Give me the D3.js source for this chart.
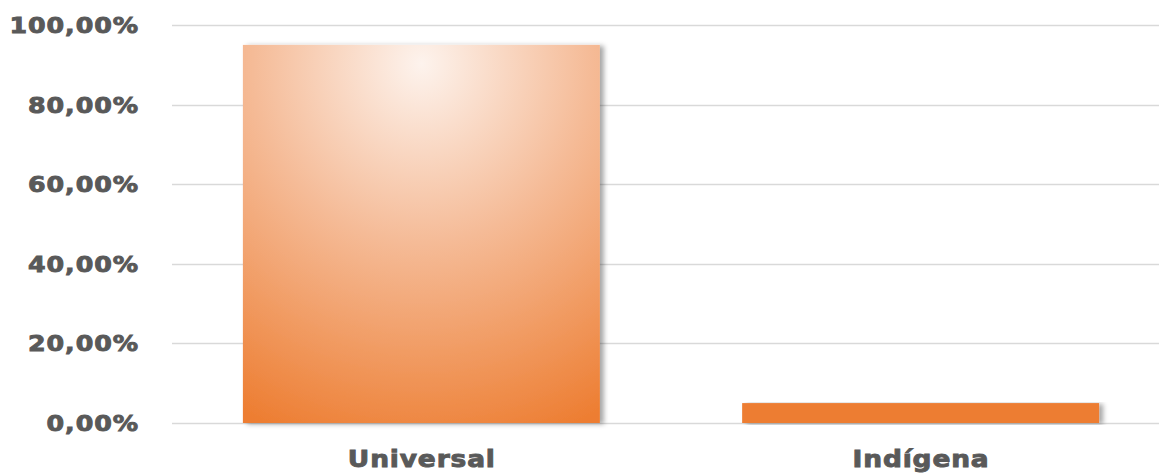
<!DOCTYPE html>
<html><head><meta charset="utf-8">
<script src="https://cdn.jsdelivr.net/npm/d3@7/dist/d3.min.js"></script>
<style>body{margin:0;background:#fff;}svg{display:block;}</style>
</head><body><svg id="c" width="1159" height="473"></svg>
<script>
const categories = ["Universal", "Indígena"];
const values = [0.95, 0.05];
const tickValues = [0, 0.2, 0.4, 0.6, 0.8, 1.0];
const tickLabels = ["0,00%", "20,00%", "40,00%", "60,00%", "80,00%", "100,00%"];

const svg = d3.select("#c");
const y = d3.scaleLinear().domain([0, 1]).range([423, 25]);
const x = d3.scaleBand().domain(categories).range([172, 1170]).paddingInner(0.285).paddingOuter(0.142);

const defs = svg.append("defs");
const g = defs.append("radialGradient").attr("id", "grad")
  .attr("gradientUnits", "objectBoundingBox")
  .attr("cx", 0.5).attr("cy", 0.05).attr("r", 1.05).attr("fx", 0.5).attr("fy", 0.05);
g.append("stop").attr("offset", "0").attr("stop-color", "#fdf3ed");
g.append("stop").attr("offset", "0.45").attr("stop-color", "#f5bb97");
g.append("stop").attr("offset", "1").attr("stop-color", "#ed7d31");
const f = defs.append("filter").attr("id", "sh").attr("x", "-5%").attr("y", "-5%").attr("width", "115%").attr("height", "115%");
f.append("feDropShadow").attr("dx", 4).attr("dy", 1).attr("stdDeviation", 2.5).attr("flood-color", "#000").attr("flood-opacity", 0.35);

// gridlines
svg.append("g").selectAll("line").data(tickValues).join("line")
  .attr("x1", 172).attr("x2", 1159)
  .attr("y1", d => Math.round(y(d)) + 0.5).attr("y2", d => Math.round(y(d)) + 0.5)
  .attr("stroke", "#d9d9d9").attr("stroke-width", 1.5);

const sx = 1.15;
// y labels
const yls = 0.8;
svg.append("g").selectAll("text").data(tickValues).join("text")
  .attr("transform", d => `translate(${138 + yls * sx},${y(d) + 8}) scale(${sx},1)`)
  .attr("text-anchor", "end")
  .attr("font-family", "DejaVu Sans").attr("font-weight", "bold").attr("font-size", 22)
  .attr("letter-spacing", yls)
  .attr("fill", "#595959").attr("stroke", "#595959").attr("stroke-width", 0.9)
  .text((d, i) => tickLabels[i]);

// bars
svg.append("g").selectAll("rect").data(values).join("rect")
  .attr("x", (d, i) => x(categories[i]))
  .attr("width", x.bandwidth())
  .attr("y", d => y(d))
  .attr("height", d => y(0) - y(d))
  .attr("fill", (d, i) => i === 0 ? "url(#grad)" : "#ed7d31")
  .attr("filter", "url(#sh)");

// x labels
const xls = 0.75;
svg.append("g").selectAll("text").data(categories).join("text")
  .attr("transform", d => `translate(${x(d) + x.bandwidth() / 2 + xls * sx / 2},467) scale(${sx},1)`)
  .attr("text-anchor", "middle")
  .attr("font-family", "DejaVu Sans").attr("font-weight", "bold").attr("font-size", 23)
  .attr("letter-spacing", xls)
  .attr("fill", "#595959").attr("stroke", "#595959").attr("stroke-width", 0.9)
  .text(d => d);
</script></body></html>
